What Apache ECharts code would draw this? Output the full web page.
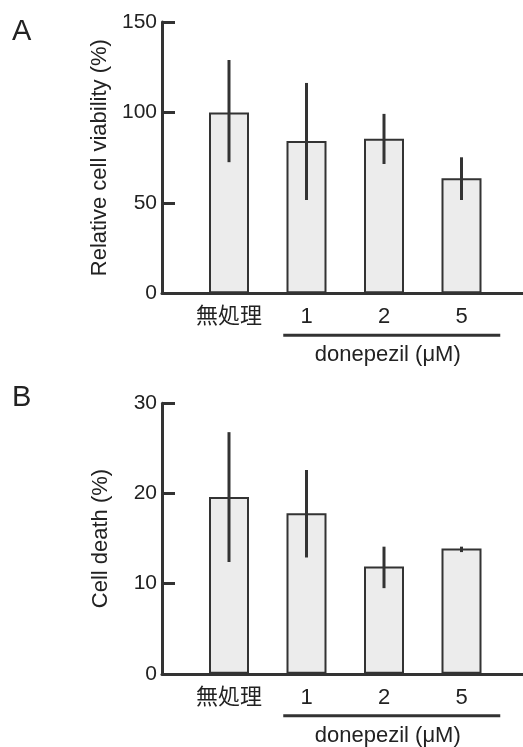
<!DOCTYPE html>
<html>
<head>
<meta charset="utf-8">
<script src="https://cdn.jsdelivr.net/npm/echarts@6/dist/echarts.min.js"></script>
<style>
html,body{margin:0;padding:0;background:#fff;}
#c{width:523px;height:747px;}
</style>
</head>
<body>
<div id="c"></div>
<script>
// ---- data ----
const categories = ['無処理', '1', '2', '5'];
const viabilityMean = [100, 84.2, 85.5, 63.6];
const viabilityLow  = [72.5, 51.6, 71.5, 51.6];
const viabilityHigh = [129, 116.3, 99.2, 75.2];
const deathMean = [19.6, 17.8, 11.9, 13.9];
const deathLow  = [12.4, 12.9, 9.5, 13.5];
const deathHigh = [26.8, 22.6, 14.1, 14.1];
const viabilityTicks = { min: 0, max: 150, interval: 50 };
const deathTicks = { min: 0, max: 30, interval: 10 };
const panelLabels = ['A', 'B'];
const yTitles = ['Relative cell viability (%)', 'Cell death (%)'];
const groupTitle = 'donepezil (μM)';

const FONT = 'Liberation Sans, Arial, Noto Sans CJK JP, sans-serif';
const INK = '#333333';
const TXT = '#222222';
const FS_TICK = 21;
const FS = 22;

const chart = echarts.init(document.getElementById('c'), null, { renderer: 'canvas' });

function axisGrid(top, height) {
  return { left: 162, right: 0, top: top, height: height, containLabel: false, outerBoundsMode: 'none' };
}
function barGrid(top, height) {
  return { left: 190.25, width: 310, top: top, height: height, containLabel: false, outerBoundsMode: 'none' };
}

const grids = [axisGrid(22, 271.3), barGrid(22, 271.3), axisGrid(403.3, 270.5), barGrid(403.3, 270.5)];

function lineXAxis(gi) {
  return {
    gridIndex: gi, type: 'value', min: 0, max: 1,
    axisLine: { show: true, onZero: false, lineStyle: { color: INK, width: 3 } },
    axisTick: { show: false }, axisLabel: { show: false }, splitLine: { show: false }
  };
}
function catXAxis(gi) {
  return {
    gridIndex: gi, type: 'category', data: categories,
    axisLine: { show: false }, axisTick: { show: false }, splitLine: { show: false },
    axisLabel: { color: TXT, fontSize: FS, fontFamily: FONT, margin: 13, interval: 0 }
  };
}
function mainYAxis(gi, t, name) {
  return {
    gridIndex: gi, type: 'value', min: t.min, max: t.max, interval: t.interval,
    axisLine: { show: true, lineStyle: { color: INK, width: 3 } },
    axisTick: { show: true, inside: true, length: 13, lineStyle: { color: INK, width: 3 } },
    axisLabel: { color: TXT, fontSize: FS_TICK, fontFamily: FONT, margin: 5 },
    splitLine: { show: false },
    name: name, nameLocation: 'middle', nameGap: 50,
    nameTextStyle: { color: TXT, fontSize: FS, fontFamily: FONT }
  };
}
function hiddenYAxis(gi, t) {
  return { gridIndex: gi, type: 'value', min: t.min, max: t.max, show: false };
}

function barSeries(ai, vals) {
  return {
    type: 'bar', xAxisIndex: ai, yAxisIndex: ai, data: vals, barWidth: 40,
    itemStyle: { color: '#ececec', borderColor: INK, borderWidth: 2 },
    emphasis: { disabled: true }, silent: true, z: 2
  };
}
function errSeries(ai, lows, highs) {
  return {
    type: 'custom', xAxisIndex: ai, yAxisIndex: ai, z: 5, silent: true,
    data: categories.map((c, i) => [i, lows[i], highs[i]]),
    renderItem: function (params, api) {
      const lo = api.coord([api.value(0), api.value(1)]);
      const hi = api.coord([api.value(0), api.value(2)]);
      return {
        type: 'line',
        shape: { x1: lo[0], y1: lo[1], x2: hi[0], y2: hi[1] },
        style: { stroke: INK, lineWidth: 3 }
      };
    }
  };
}

chart.setOption({
  animation: false,
  backgroundColor: '#ffffff',
  grid: grids,
  xAxis: [lineXAxis(0), catXAxis(1), lineXAxis(2), catXAxis(3)],
  yAxis: [mainYAxis(0, viabilityTicks, yTitles[0]), hiddenYAxis(1, viabilityTicks),
          mainYAxis(2, deathTicks, yTitles[1]), hiddenYAxis(3, deathTicks)],
  series: [
    barSeries(1, viabilityMean), errSeries(1, viabilityLow, viabilityHigh),
    barSeries(3, deathMean), errSeries(3, deathLow, deathHigh)
  ]
});

// annotations placed from the axis scales
function annot(ai, yZero) {
  const c1 = chart.convertToPixel({ xAxisIndex: ai }, categories[1]);
  const c3 = chart.convertToPixel({ xAxisIndex: ai }, categories[3]);
  const band = (c3 - c1) / 2;
  const x1 = c1 - band * 0.3;
  const x2 = c3 + band * 0.5;
  return [
    { type: 'line', shape: { x1: x1, y1: yZero + 42, x2: x2, y2: yZero + 42 },
      style: { stroke: INK, lineWidth: 3 } },
    { type: 'text', x: (x1 + x2) / 2 - 4, y: yZero + 62,
      style: { text: groupTitle, fill: TXT, font: FS + 'px ' + FONT, align: 'center', verticalAlign: 'middle' } }
  ];
}
const z0 = chart.convertToPixel({ yAxisIndex: 1 }, 0);
const z1 = chart.convertToPixel({ yAxisIndex: 3 }, 0);
chart.setOption({
  graphic: [
    { type: 'text', left: 12, top: 17, style: { text: panelLabels[0], fill: TXT, font: '29px ' + FONT } },
    { type: 'text', left: 12, top: 383, style: { text: panelLabels[1], fill: TXT, font: '29px ' + FONT } }
  ].concat(annot(1, z0), annot(3, z1))
});
</script>
</body>
</html>
